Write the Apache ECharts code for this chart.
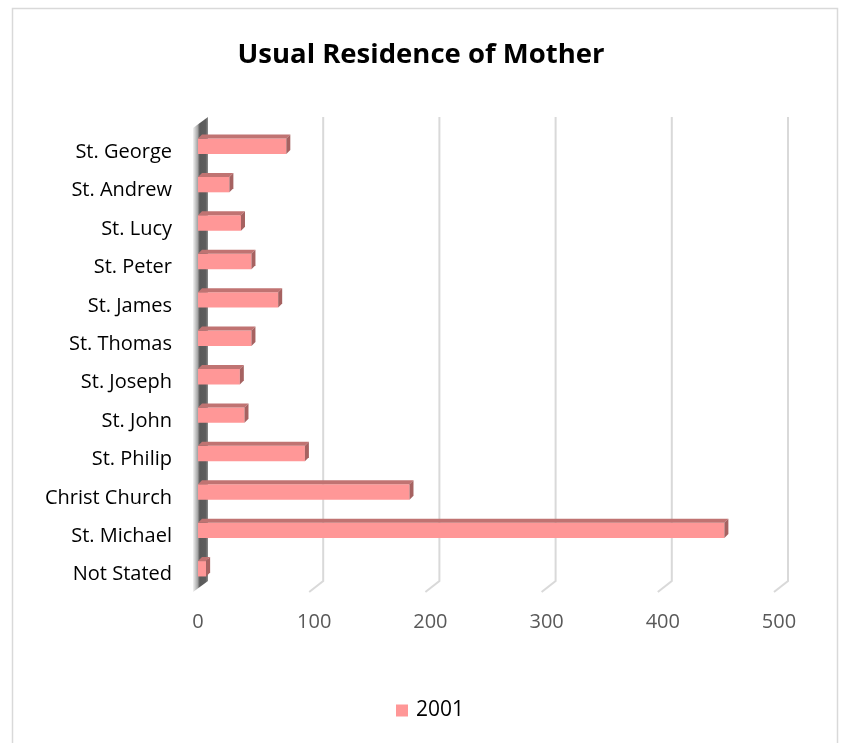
<!DOCTYPE html>
<html>
<head>
<meta charset="utf-8">
<title>Usual Residence of Mother</title>
<script src="https://cdn.jsdelivr.net/npm/echarts@6/dist/echarts.min.js"></script>
<style>
  html, body { margin: 0; padding: 0; background: #fff; }
  #chart { width: 842px; height: 743px; }
</style>
</head>
<body>
<div id="chart"></div>
<script>
// data
const categories = ['St. George', 'St. Andrew', 'St. Lucy', 'St. Peter', 'St. James', 'St. Thomas',
  'St. Joseph', 'St. John', 'St. Philip', 'Christ Church', 'St. Michael', 'Not Stated']
const values2001 = [76, 27, 37, 46, 69, 46, 36, 40, 92, 182, 453, 7]
const xTicks = [0, 100, 200, 300, 400, 500]
const seriesName = '2001'

const font = 'Open Sans'
const chart = echarts.init(document.getElementById('chart'))

// 3d depth offset of the bars
const depth = 4

// one bar: front face, top face, right side
const renderBar = (params, api) => {
  const val = api.value(0)
  const cat = api.value(1)
  const start = api.coord([0, cat])
  const end = api.coord([val, cat])
  const h = api.size([0, 1])[1] * 0.4
  const top = start[1] - h / 2 + 1
  const bottom = start[1] + h / 2 + 1
  return {
    type: 'group',
    children: [
      {
        type: 'rect',
        shape: { x: start[0], y: top, width: end[0] - start[0], height: h },
        style: { fill: '#ff9797' }
      },
      {
        type: 'polygon',
        shape: { points: [[start[0], top], [end[0], top], [end[0] + depth, top - depth], [start[0] + depth, top - depth]] },
        style: { fill: '#c07372' }
      },
      {
        type: 'polygon',
        shape: { points: [[end[0], top], [end[0] + depth, top - depth], [end[0] + depth, bottom - depth], [end[0], bottom]] },
        style: { fill: '#a66261' }
      }
    ]
  }
}

// back wall gridlines with the little slanted foot
const renderGrid = (params, api) => {
  const cs = params.coordSys
  const x = api.coord([api.value(0), 0])[0]
  if (api.value(0) === 0) return null
  const b = cs.y + cs.height
  return {
    type: 'polyline',
    shape: { points: [[x + 9, cs.y - 9], [x + 9, b - 6], [x - 5, b + 5]] },
    style: { stroke: '#d9d9d9', lineWidth: 2, fill: null }
  }
}

// the left wall of the 3d plot
const renderWall = (params, api) => {
  const cs = params.coordSys
  const b = cs.y + cs.height
  return {
    type: 'polygon',
    shape: { points: [[cs.x - 5, cs.y + 2], [cs.x + 10, cs.y - 9], [cs.x + 10, b - 6], [cs.x - 5, b + 5]] },
    style: {
      fill: new echarts.graphic.LinearGradient(0, 0, 1, 0, [
        { offset: 0, color: '#f2f2f2' },
        { offset: 0.3, color: '#a8a8a8' },
        { offset: 0.45, color: '#5a5a5a' },
        { offset: 0.85, color: '#5e5e5e' },
        { offset: 1, color: '#8c8c8c' }
      ])
    }
  }
}

const option = {
  animation: false,
  backgroundColor: '#fff',
  title: {
    text: 'Usual Residence of Mother',
    left: 'center',
    top: 36,
    textStyle: { fontFamily: font, fontSize: 27.5, fontWeight: 'bold', color: '#000' }
  },
  graphic: [
    {
      type: 'rect',
      shape: { x: 12.5, y: 8.5, width: 825, height: 760 },
      style: { fill: null, stroke: '#d9d9d9', lineWidth: 1.5 },
      z: -1
    }
  ],
  legend: {
    bottom: 17,
    left: 391,
    itemWidth: 12,
    itemHeight: 12,
    itemGap: 6,
    textStyle: { fontFamily: font, fontSize: 21, color: '#000', padding: [0, 0, 0, 3] },
    data: [{ name: seriesName, icon: 'rect', itemStyle: { color: '#ff9797' } }]
  },
  grid: { left: 198, right: 63, top: 126, bottom: 156 },
  xAxis: {
    type: 'value',
    min: 0,
    max: 500,
    interval: 100,
    axisLine: { show: false },
    axisTick: { show: false },
    splitLine: { show: false },
    axisLabel: {
      margin: 25,
      fontFamily: font,
      fontSize: 20,
      color: '#595959',
      formatter: (v) => (xTicks.includes(v) ? String(v) : '')
    }
  },
  yAxis: {
    type: 'category',
    inverse: true,
    data: categories,
    axisLine: { show: false },
    axisTick: { show: false },
    axisLabel: { margin: 26, verticalAlign: 'top', lineHeight: 14, fontFamily: font, fontSize: 20, color: '#000' }
  },
  series: [
    {
      type: 'custom',
      name: 'grid',
      silent: true,
      z: 1,
      renderItem: renderGrid,
      encode: { x: 0, y: 1 },
      data: xTicks.map((v) => [v, 0])
    },
    {
      type: 'custom',
      name: 'wall',
      silent: true,
      z: 2,
      renderItem: renderWall,
      encode: { x: 0, y: 1 },
      data: [[0, 0]]
    },
    {
      type: 'custom',
      name: seriesName,
      z: 3,
      itemStyle: { color: '#ff9797' },
      renderItem: renderBar,
      encode: { x: 0, y: 1 },
      data: values2001.map((v, i) => [v, i])
    }
  ]
}
chart.setOption(option)
</script>
</body>
</html>
